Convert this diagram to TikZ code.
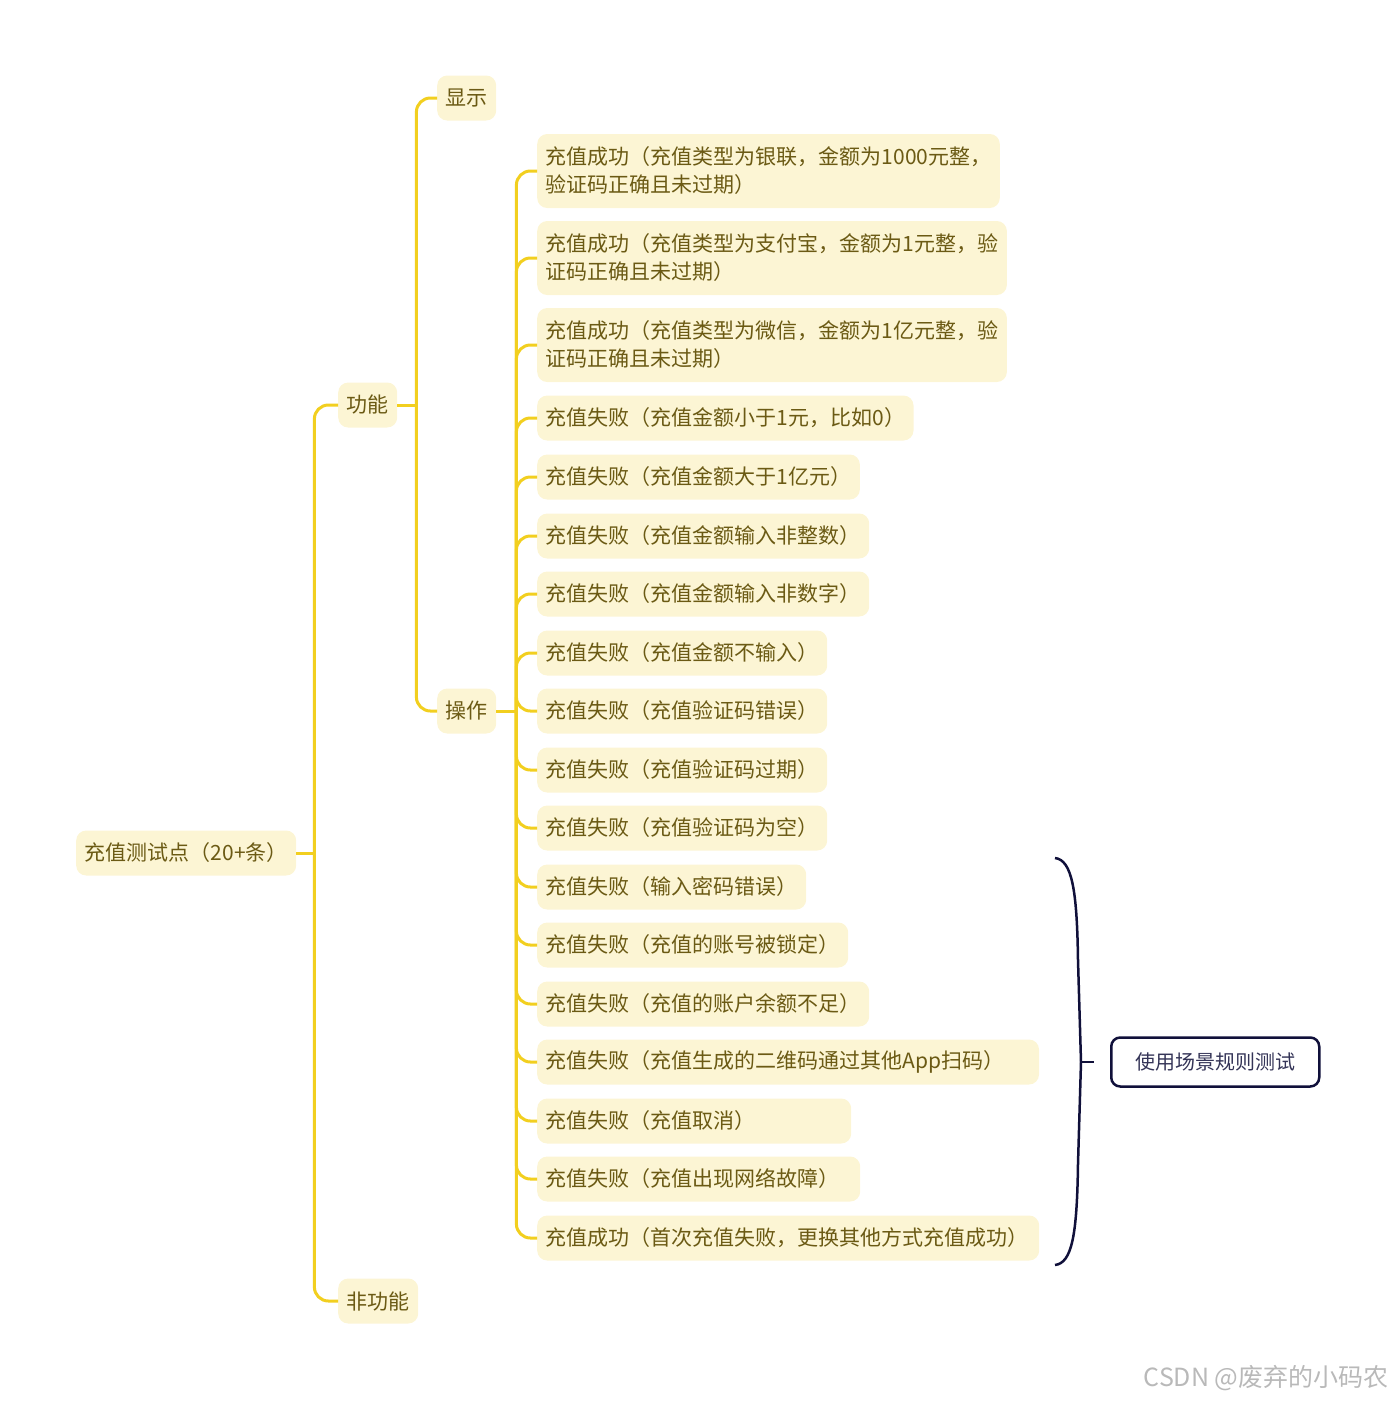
\documentclass[tikz,border=0pt]{standalone}
\usepackage{fontspec}
\setmainfont{Noto Sans CJK SC}
\usepackage{tikz}
\usetikzlibrary{positioning}
\usepackage{xcolor}
\definecolor{topicfill}{HTML}{FCF5D4}
\definecolor{topictext}{HTML}{6B5A14}
\definecolor{branchgold}{HTML}{F2CF1F}
\definecolor{bracenavy}{HTML}{10103A}

\begin{document}
\begin{tikzpicture}[x=1pt,y=-1pt,
  topic/.style={fill=topicfill,text=topictext,rounded corners=10pt,anchor=west,
    inner xsep=8.5pt,inner ysep=6pt,minimum height=45pt,font=\fontsize{21}{28}\selectfont},
  branchline/.style={draw=branchgold,line width=3pt,rounded corners=14pt}]
\useasboundingbox (0,0) rectangle (1395,1401);
% main topics
\node[topic] (root) at (76,853) {充值测试点（20+条）};
\node[topic] (func) at (338,405) {功能};
\node[topic] (nonfunc) at (338,1301) {非功能};
\node[topic] (show) at (437,98) {显示};
\node[topic] (oper) at (437,711) {操作};
% leaves of oper
\node[topic,align=left,minimum height=74pt] (ok1) at (537,171) {充值成功（充值类型为银联，金额为1000元整，\\验证码正确且未过期）};
\node[topic,align=left,minimum height=74pt] (ok2) at (537,258) {充值成功（充值类型为支付宝，金额为1元整，验\\证码正确且未过期）};
\node[topic,align=left,minimum height=74pt] (ok3) at (537,345) {充值成功（充值类型为微信，金额为1亿元整，验\\证码正确且未过期）};
\foreach \name/\y/\pad/\txt in {
  f1/418/0/充值失败（充值金额小于1元，比如0）,
  f2/477/0/充值失败（充值金额大于1亿元）,
  f3/536/0/充值失败（充值金额输入非整数）,
  f4/594/0/充值失败（充值金额输入非数字）,
  f5/653/0/充值失败（充值金额不输入）,
  f6/711/0/充值失败（充值验证码错误）,
  f7/770/0/充值失败（充值验证码过期）,
  f8/828/0/充值失败（充值验证码为空）,
  f9/887/0/充值失败（输入密码错误）,
  f10/945/0/充值失败（充值的账号被锁定）,
  f11/1004/0/充值失败（充值的账户余额不足）,
  f12/1062/26/充值失败（充值生成的二维码通过其他App扫码）,
  f13/1121/87/充值失败（充值取消）,
  f14/1179/12/充值失败（充值出现网络故障）,
  ok4/1238/2/充值成功（首次充值失败，更换其他方式充值成功）}
  \node[topic] (\name) at (537,\y) {\txt\hspace*{\pad pt}};
% connectors
\path (root.east) ++(18,0) coordinate (rootj);
\path (func.east) ++(19,0) coordinate (funcj);
\path (oper.east) ++(20,0) coordinate (operj);
\draw[branchline] (root.east) -- (rootj);
\draw[branchline] (func.east) -- (funcj);
\draw[branchline] (oper.east) -- (operj);
\foreach \n in {func,nonfunc} \draw[branchline] (rootj) |- (\n.west);
\foreach \n in {show,oper} \draw[branchline] (funcj) |- (\n.west);
\foreach \n in {ok1,ok2,ok3,f1,f2,f3,f4,f5,f6,f7,f8,f9,f10,f11,f12,f13,f14,ok4}
  \draw[branchline] (operj) |- (\n.west);
% brace and summary
\node[draw=bracenavy,line width=2.5pt,rounded corners=9pt,text=bracenavy!85,anchor=west,
  minimum width=208pt,minimum height=49pt,font=\fontsize{20}{24}\selectfont] (scene) at (1110,1062) {使用场景规则测试};
\draw[bracenavy,line width=2.5pt] (1055,858) .. controls (1072,860) and (1077,890) .. (1078,960)
  -- (1081,1062) coordinate (bracetip) -- (1078,1164) .. controls (1077,1235) and (1072,1263) .. (1055,1265);
\draw[bracenavy,line width=2.5pt] (bracetip) -- ++(13,0) coordinate (braceend);
% watermark
\node[text=gray!55,font=\fontsize{25}{30}\selectfont,anchor=east] (mark) at (1392,1378) {CSDN @废弃的小码农};
\end{tikzpicture}
\end{document}
